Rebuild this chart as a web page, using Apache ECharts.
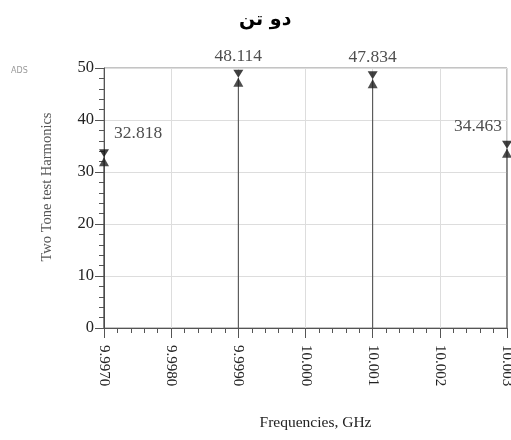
<!DOCTYPE html>
<html>
<head>
<meta charset="utf-8">
<script src="https://cdn.jsdelivr.net/npm/echarts@6/dist/echarts.min.js"></script>
<style>html,body{margin:0;padding:0;background:#fff}#c{width:511px;height:440px}</style>
</head>
<body>
<div id="c"></div>
<script>
const freqs = [9.997, 9.999, 10.001, 10.003];
const harmonics = [32.818, 48.114, 47.834, 34.463];
const xTickLabels = ['9.9970', '9.9980', '9.9990', '10.000', '10.001', '10.002', '10.003'];
const yTicks = [0, 10, 20, 30, 40, 50];

const labelStyles = [
  {align: 'left', offset: [10, -24]},
  {align: 'center', offset: [0, -21]},
  {align: 'center', offset: [0, -22]},
  {align: 'right', offset: [-5, -22]}
];
const serif = 'Liberation Serif';
const chart = echarts.init(document.getElementById('c'), null, {renderer: 'canvas'});
const option = {
  animation: false,
  title: {
    text: 'دو تن', left: 234, top: 6,
    textStyle: {fontFamily: 'DejaVu Sans', fontWeight: 'bold', fontSize: 19, color: '#000'}
  },
  graphic: [{type: 'text', left: 11, top: 67, style: {text: 'ADS', fontSize: 8, fill: '#999', fontFamily: 'DejaVu Sans'}}],
  grid: {left: 104, right: 4, top: 68, bottom: 112, show: true, borderColor: '#888', borderWidth: 1,
    outerBoundsMode: 'none', containLabel: false},
  xAxis: {
    type: 'value', min: 9.997, max: 10.003, interval: 0.001,
    name: 'Frequencies, GHz', nameLocation: 'middle', nameGap: 87,
    nameTextStyle: {fontFamily: serif, fontSize: 15.5, color: '#222', padding: [0, 0, 0, 20]},
    axisLine: {show: true, onZero: false, lineStyle: {color: '#555'}},
    axisTick: {show: true, length: 10, lineStyle: {color: '#555'}},
    minorTick: {show: true, splitNumber: 5, length: 5, lineStyle: {color: '#555'}},
    splitLine: {show: true, lineStyle: {color: '#ddd'}},
    axisLabel: {
      rotate: -90, margin: 17, fontFamily: serif, fontSize: 15, color: '#222', hideOverlap: false,
      formatter: v => xTickLabels[Math.round((v - 9.997) / 0.001)] || ''
    }
  },
  yAxis: {
    type: 'value', min: 0, max: 50, interval: 10,
    name: 'Two Tone test Harmonics', nameLocation: 'middle', nameGap: 49,
    nameTextStyle: {fontFamily: serif, fontSize: 14.5, color: '#555', padding: [0, 0, 0, 22]},
    axisLine: {show: true, lineStyle: {color: '#555'}},
    axisTick: {show: true, length: 9, lineStyle: {color: '#555'}},
    minorTick: {show: true, splitNumber: 5, length: 5, lineStyle: {color: '#555'}},
    splitLine: {show: true, lineStyle: {color: '#ddd'}},
    axisLabel: {margin: 10, fontFamily: serif, fontSize: 16.5, color: '#222',
      formatter: v => String(v)}
  },
  series: [
    {
      type: 'custom', z: 3,
      data: freqs.map((f, i) => [f, harmonics[i]]),
      renderItem: (params, api) => {
        const p0 = api.coord([api.value(0), 0]);
        const p1 = api.coord([api.value(0), api.value(1)]);
        return {type: 'line', shape: {x1: p0[0], y1: p0[1], x2: p1[0], y2: p1[1]},
          style: {stroke: '#444', lineWidth: 1}};
      }
    },
    {
      type: 'scatter', z: 4, symbol: 'triangle', symbolSize: [10, 9], symbolOffset: [0, 4.5],
      itemStyle: {color: '#222'},
      data: freqs.map((f, i) => [f, harmonics[i]])
    },
    {
      type: 'scatter', z: 4, symbol: 'path://M0,0 L10,0 L5,9 Z', symbolSize: [10, 8], symbolOffset: [0, -4],
      itemStyle: {color: '#111'},
      data: freqs.map((f, i) => [f, harmonics[i]])
    },
    {
      type: 'scatter', z: 5, symbolSize: 1, itemStyle: {color: 'rgba(0,0,0,0)'},
      label: {show: true, position: 'inside', verticalAlign: 'middle', fontFamily: serif, fontSize: 17.5, color: '#222',
        formatter: p => p.value[1].toFixed(3)},
      data: freqs.map((f, i) => ({value: [f, harmonics[i]], label: labelStyles[i]}))
    }
  ]
};
chart.setOption(option);
</script>
</body>
</html>
